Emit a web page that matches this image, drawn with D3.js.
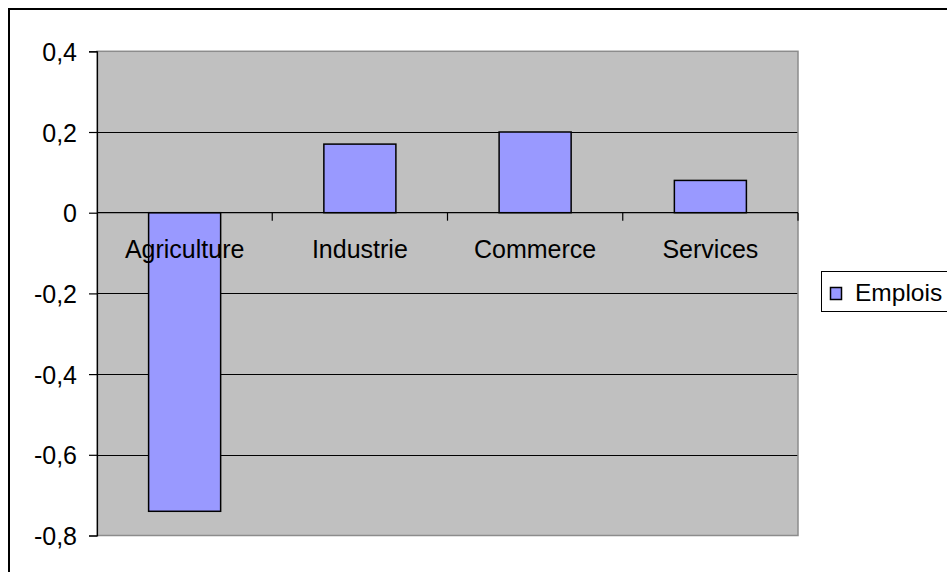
<!DOCTYPE html>
<html>
<head>
<meta charset="utf-8">
<script src="https://cdn.jsdelivr.net/npm/d3@7"></script>
<style>
  html, body { margin: 0; padding: 0; background: #fff; }
  svg { display: block; }
  text { font-family: Arial, "Liberation Sans", sans-serif; fill: #000; }
</style>
</head>
<body>
<svg id="chart" width="947" height="572"></svg>
<script>
// Variation of employment by sector
const categories = ["Agriculture", "Industrie", "Commerce", "Services"];
const emplois = [-0.74, 0.17, 0.20, 0.08];
const yTicks = [0.4, 0.2, 0, -0.2, -0.4, -0.6, -0.8];
const seriesName = "Emplois";

const svg = d3.select("#chart");
const plot = { left: 97, right: 798, top: 51.3, bottom: 535.5 };

const x = d3.scaleBand()
  .domain(categories)
  .range([plot.left, plot.right])
  .paddingInner(0.589)
  .paddingOuter(0.2945);

const y = d3.scaleLinear()
  .domain([-0.8, 0.4])
  .range([plot.bottom, plot.top]);

const fmt = v => (Math.abs(v) < 1e-9 ? "0" : d3.format(".1f")(v).replace(".", ",").replace("−", "-"));

// Outer chart frame (extends past the visible area on right and bottom)
svg.append("rect")
  .attr("x", 9).attr("y", 9)
  .attr("width", 1200).attr("height", 1200)
  .attr("fill", "none").attr("stroke", "#000").attr("stroke-width", 2);

// Plot background
svg.append("rect")
  .attr("x", plot.left).attr("y", plot.top)
  .attr("width", plot.right - plot.left).attr("height", plot.bottom - plot.top)
  .attr("fill", "#c0c0c0");

// Horizontal gridlines
svg.append("g")
  .selectAll("line")
  .data(yTicks.filter(v => v !== 0.4 && v !== -0.8 && v !== 0))
  .join("line")
  .attr("x1", plot.left).attr("x2", plot.right)
  .attr("y1", d => Math.round(y(d)) + 0.5).attr("y2", d => Math.round(y(d)) + 0.5)
  .attr("stroke", "#000").attr("stroke-width", 1);

// Plot border (grey)
svg.append("rect")
  .attr("x", plot.left).attr("y", plot.top)
  .attr("width", plot.right - plot.left).attr("height", plot.bottom - plot.top)
  .attr("fill", "none").attr("stroke", "#8c8c8c").attr("stroke-width", 1.5);

// Bars
svg.append("g")
  .selectAll("rect")
  .data(categories.map((c, i) => ({ c, v: emplois[i] })))
  .join("rect")
  .attr("x", d => x(d.c))
  .attr("width", x.bandwidth())
  .attr("y", d => y(Math.max(0, d.v)))
  .attr("height", d => Math.abs(y(d.v) - y(0)))
  .attr("fill", "#9999ff")
  .attr("stroke", "#000")
  .attr("stroke-width", 1.5);

// Y axis
const yAxis = svg.append("g")
  .attr("transform", `translate(${plot.left},0)`)
  .call(d3.axisLeft(y).tickValues(yTicks).tickFormat(fmt).tickSize(8).tickPadding(12));
yAxis.select(".domain").attr("stroke", "#000").attr("stroke-width", 1.2);
yAxis.selectAll(".tick line").attr("stroke", "#000").attr("stroke-width", 1.2);
yAxis.selectAll(".tick text")
  .attr("font-size", 25)
  .attr("font-family", "Arial, 'Liberation Sans', sans-serif")
  .attr("fill", "#000")
  .attr("dy", "0.36em");

// X axis along zero with category boundary ticks
svg.append("line")
  .attr("x1", plot.left).attr("x2", plot.right)
  .attr("y1", y(0)).attr("y2", y(0))
  .attr("stroke", "#000").attr("stroke-width", 1.2);

const boundaries = categories.map(c => x(c) + x.bandwidth() / 2 + x.step() / 2);
svg.append("g")
  .selectAll("line")
  .data(boundaries)
  .join("line")
  .attr("x1", d => d).attr("x2", d => d)
  .attr("y1", y(0)).attr("y2", y(0) + 8)
  .attr("stroke", "#000").attr("stroke-width", 1.2);

svg.append("g")
  .selectAll("text")
  .data(categories)
  .join("text")
  .attr("x", d => x(d) + x.bandwidth() / 2)
  .attr("y", 258.3)
  .attr("text-anchor", "middle")
  .attr("font-size", 25)
  .text(d => d);

// Legend
const legend = svg.append("g");
legend.append("rect")
  .attr("x", 821.5).attr("y", 271.5)
  .attr("width", 200).attr("height", 40)
  .attr("fill", "#fff").attr("stroke", "#000").attr("stroke-width", 1);
legend.append("rect")
  .attr("x", 830.5).attr("y", 287.5)
  .attr("width", 11).attr("height", 12)
  .attr("fill", "#9999ff").attr("stroke", "#000").attr("stroke-width", 1.5);
legend.append("text")
  .attr("x", 855)
  .attr("y", 301)
  .attr("font-size", 24.5)
  .text(seriesName);
</script>
</body>
</html>
